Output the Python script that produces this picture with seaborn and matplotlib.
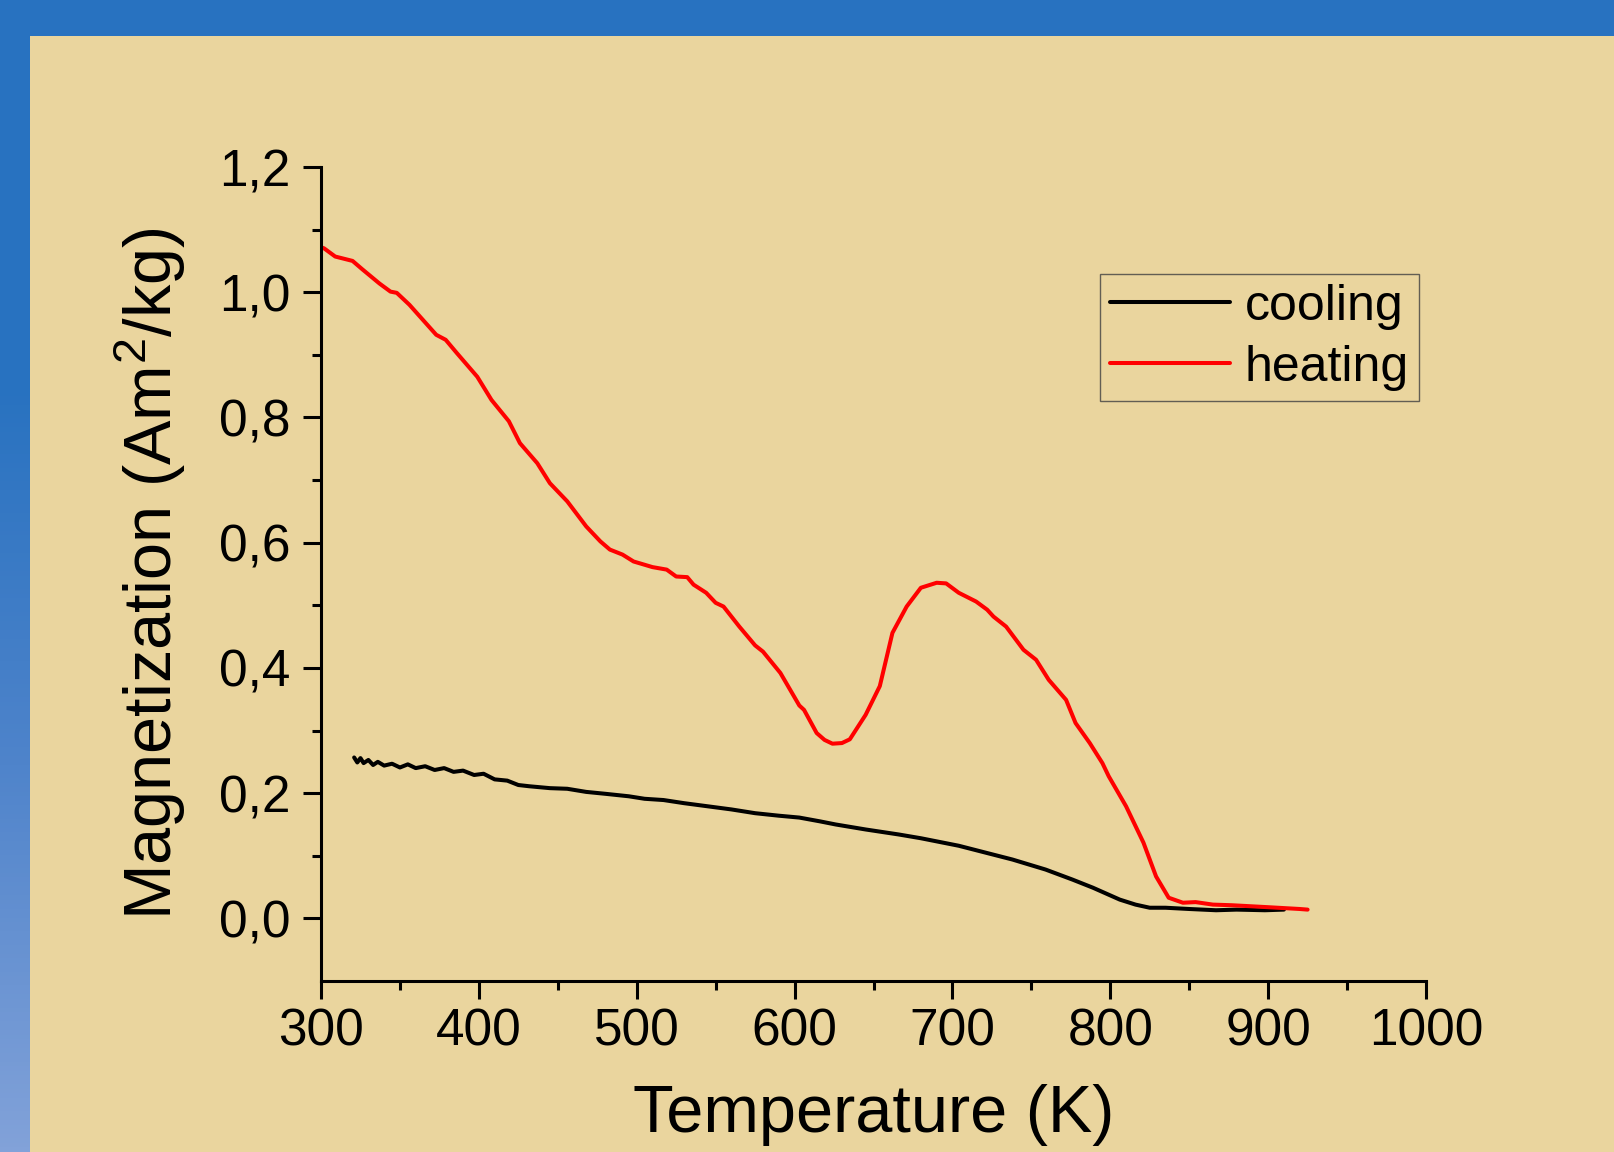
import numpy as np
import pandas as pd
import matplotlib
matplotlib.use('Agg')
import matplotlib.pyplot as plt
from matplotlib.patches import Rectangle
from matplotlib.colors import LinearSegmentedColormap
import seaborn as sns

# Dados (T em K, M em Am2/kg)
heat_T = [300, 302, 309, 320, 326, 337, 344, 348, 356, 373, 379, 386, 399, 408, 419, 426,
          437, 445, 456, 468, 477, 483, 491, 498, 510, 519, 525, 532, 536, 544, 550, 555,
          565, 575, 580, 591, 603, 606, 614, 619, 624, 630, 635, 645, 654, 662, 671, 680,
          690, 696, 704, 715, 722, 726, 734, 745, 753, 761, 772, 778, 787, 795, 799, 810,
          821, 829, 837, 846, 854, 865, 877, 899, 920, 925]
heat_M = [1.072, 1.070, 1.057, 1.050, 1.037, 1.014, 1.001, 0.999, 0.980, 0.932, 0.924, 0.903,
          0.865, 0.828, 0.794, 0.759, 0.727, 0.695, 0.666, 0.626, 0.602, 0.589, 0.581, 0.570,
          0.561, 0.557, 0.546, 0.545, 0.533, 0.520, 0.504, 0.498, 0.466, 0.436, 0.426, 0.392,
          0.340, 0.333, 0.296, 0.285, 0.279, 0.280, 0.286, 0.325, 0.371, 0.456, 0.498, 0.528,
          0.536, 0.535, 0.520, 0.506, 0.493, 0.482, 0.466, 0.429, 0.413, 0.381, 0.349, 0.312,
          0.280, 0.248, 0.227, 0.179, 0.121, 0.067, 0.033, 0.025, 0.026, 0.022, 0.021, 0.018,
          0.015, 0.014]

cool_T = [321, 323, 325, 327, 330, 333, 336, 340, 345, 350, 355, 360, 366, 372, 378, 384,
          390, 397, 403, 410, 418, 425, 432, 445, 456, 468, 480, 495, 505, 517, 530, 545,
          560, 575, 590, 603, 616, 626, 645, 666, 680, 692, 704, 721, 738, 759, 776, 789,
          806, 816, 825, 835, 850, 867, 880, 898, 910]
cool_M = [0.257, 0.249, 0.256, 0.248, 0.253, 0.245, 0.250, 0.244, 0.247, 0.241, 0.246, 0.240,
          0.243, 0.237, 0.240, 0.234, 0.236, 0.229, 0.231, 0.222, 0.220, 0.213, 0.211, 0.208,
          0.207, 0.202, 0.199, 0.195, 0.191, 0.189, 0.184, 0.179, 0.174, 0.168, 0.164, 0.161,
          0.155, 0.150, 0.142, 0.134, 0.128, 0.122, 0.116, 0.105, 0.094, 0.078, 0.062, 0.049,
          0.030, 0.022, 0.017, 0.017, 0.015, 0.013, 0.014, 0.013, 0.014]

x_ticks = [300, 400, 500, 600, 700, 800, 900, 1000]
x_tick_labels = ['300', '400', '500', '600', '700', '800', '900', '1000']
x_minor = [350, 450, 550, 650, 750, 850, 950]
y_ticks = [0.0, 0.2, 0.4, 0.6, 0.8, 1.0, 1.2]
y_tick_labels = ['0,0', '0,2', '0,4', '0,6', '0,8', '1,0', '1,2']
y_minor = [0.1, 0.3, 0.5, 0.7, 0.9, 1.1]

sns.set_style('ticks')
plt.rcParams['font.family'] = ['Liberation Sans', 'DejaVu Sans']
plt.rcParams['mathtext.fontset'] = 'custom'
plt.rcParams['mathtext.rm'] = 'Liberation Sans'
plt.rcParams['mathtext.default'] = 'regular'
plt.rcParams['text.color'] = 'black'
plt.rcParams['axes.labelcolor'] = 'black'
plt.rcParams['xtick.color'] = 'black'
plt.rcParams['ytick.color'] = 'black'

fig = plt.figure(figsize=(16.15, 11.52), dpi=100)
fig.patch.set_facecolor('#2872c0')

# fundo: moldura azul com degrade + papel
bg = fig.add_axes([0, 0, 1, 1], zorder=-10)
grad = np.linspace(0, 1, 256).reshape(-1, 1)
cmap = LinearSegmentedColormap.from_list('azul', ['#2872c0', '#2872c0', '#4f84cb', '#82a2d9'])
bg.imshow(grad, aspect='auto', cmap=cmap, extent=[0, 1, 0, 1], origin='upper')
bg.add_patch(Rectangle((30 / 1615, 0), 1, 1 - 36 / 1152, facecolor='#ead59e', edgecolor='none'))
bg.set_xlim(0, 1)
bg.set_ylim(0, 1)
bg.axis('off')

ax = fig.add_axes([321 / 1615, 171 / 1152, 1105 / 1615, 814 / 1152])
ax.set_facecolor('none')

df_cool = pd.DataFrame({'T': cool_T, 'M': cool_M})
df_heat = pd.DataFrame({'T': heat_T, 'M': heat_M})
sns.lineplot(data=df_cool, x='T', y='M', color='black', lw=2.9, sort=False,
             estimator=None, label='cooling', ax=ax)
sns.lineplot(data=df_heat, x='T', y='M', color='#ff0000', lw=2.9, sort=False,
             estimator=None, label='heating', ax=ax)

ax.set_xlim(300, 1000)
ax.set_ylim(-0.1, 1.2)
ax.set_xticks(x_ticks)
ax.set_xticklabels(x_tick_labels)
ax.set_xticks(x_minor, minor=True)
ax.set_yticks(y_ticks)
ax.set_yticklabels(y_tick_labels)
ax.set_yticks(y_minor, minor=True)

for s in ['top', 'right']:
    ax.spines[s].set_visible(False)
for s in ['left', 'bottom']:
    ax.spines[s].set_linewidth(2.2)
    ax.spines[s].set_color('black')

ax.tick_params(which='major', direction='out', length=13, width=2.2, labelsize=37)
ax.tick_params(axis='x', which='major', pad=6)
ax.tick_params(axis='y', which='major', pad=9)
ax.tick_params(which='minor', direction='out', length=6.5, width=2.2)

ax.set_xlabel('Temperature (K)', fontsize=48, labelpad=20)
ax.set_ylabel('Magnetization (Am$^2$/kg)', fontsize=48, labelpad=22)

leg = ax.legend(loc='upper right', bbox_to_anchor=(0.9937, 0.8686), borderaxespad=0,
                fontsize=36, frameon=True, fancybox=False, handlelength=2.4,
                handletextpad=0.3, borderpad=0.2, labelspacing=0.3)
leg.get_frame().set_facecolor('none')
leg.get_frame().set_edgecolor('#404040')
leg.get_frame().set_linewidth(1.0)
for line in leg.get_lines():
    line.set_linewidth(2.9)

plt.savefig('out.png', dpi=100)
